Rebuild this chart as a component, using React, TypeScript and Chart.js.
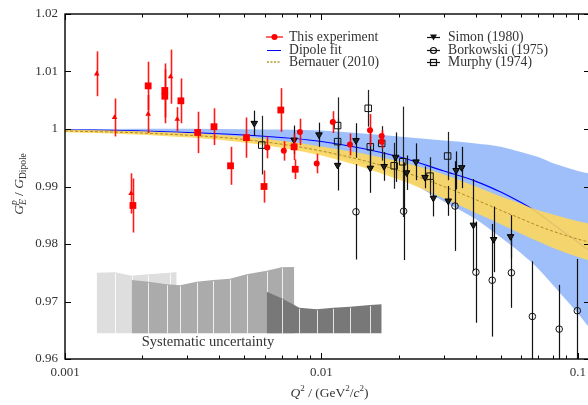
import React, { useEffect, useRef } from 'react';
import { Chart, registerables } from 'chart.js';
Chart.register(...registerables);

// ---------- axis ranges & tick labels ----------
const Q2_MIN = 0.001;
const Q2_MAX = 0.1114;
const G_MIN = 0.96;
const G_MAX = 1.02;
const yTickValues = [0.96, 0.97, 0.98, 0.99, 1.0, 1.01, 1.02];
const yTickLabels = ['0.96', '0.97', '0.98', '0.99', '1', '1.01', '1.02'];
const xTickValues = [0.001, 0.01, 0.1];
const xTickLabels = ['0.001', '0.01', '0.1'];

// ---------- This experiment ----------
const expQ2 = [0.00133, 0.00156, 0.00181, 0.00184, 0.00211, 0.00211, 0.00245, 0.00245, 0.00258, 0.00274, 0.00283, 0.00329, 0.00381, 0.00442, 0.0051, 0.00597, 0.00615, 0.00694, 0.00713, 0.00782, 0.0079, 0.00824, 0.00958, 0.01107, 0.01291, 0.01546, 0.01717, 0.01717];
const expG = [1.0096, 1.002, 0.9888, 0.9867, 1.0075, 1.0026, 1.0067, 1.0057, 1.0091, 1.0017, 1.0049, 0.9994, 1.0004, 0.9936, 0.9985, 0.99, 0.9968, 1.0033, 0.9962, 0.9969, 0.993, 0.9995, 0.994, 1.0012, 0.9973, 0.9998, 0.9988, 0.9978];
const expErr = [0.0039, 0.0033, 0.0035, 0.0047, 0.0042, 0.0033, 0.0047, 0.0047, 0.0047, 0.0021, 0.0039, 0.0036, 0.0032, 0.0033, 0.0035, 0.0028, 0.0019, 0.0038, 0.0017, 0.0023, 0.0017, 0.0023, 0.0017, 0.0019, 0.0019, 0.0028, 0.001, 0.0012];
const expMarker = ['tri', 'tri', 'tri', 'sq', 'sq', 'tri', 'sq', 'sq', 'tri', 'tri', 'sq', 'sq', 'sq', 'sq', 'sq', 'sq', 'ci', 'sq', 'ci', 'sq', 'sq', 'ci', 'ci', 'ci', 'ci', 'ci', 'ci', 'ci'];

// ---------- Simon (1980) ----------
const simonQ2 = [0.00547, 0.00782, 0.00978, 0.01156, 0.01363, 0.0155, 0.01754, 0.01945, 0.02147, 0.02335, 0.02532, 0.0273, 0.0312, 0.0335, 0.0352, 0.0391, 0.0469, 0.0546];
const simonG = [1.001, 0.9981, 0.999, 0.9937, 0.998, 0.9932, 0.9935, 0.9951, 0.9924, 0.9943, 0.9916, 0.988, 0.9875, 0.9928, 0.9933, 0.9833, 0.9808, 0.9813];
const simonErr = [0.0022, 0.0025, 0.0021, 0.0044, 0.003, 0.0043, 0.0025, 0.0043, 0.003, 0.0032, 0.0019, 0.0032, 0.0026, 0.0033, 0.0036, 0.008, 0.0057, 0.0037];

// ---------- Borkowski (1975) ----------
const borkQ2 = [0.01363, 0.0209, 0.03315, 0.04, 0.0463, 0.055, 0.0664, 0.0845, 0.0994];
const borkG = [0.9856, 0.9857, 0.9866, 0.9751, 0.9737, 0.975, 0.9674, 0.9652, 0.9684];
const borkErr = [0.0083, 0.0085, 0.0078, 0.0088, 0.0098, 0.0061, 0.0096, 0.0077, 0.009];

// ---------- Murphy (1974) ----------
const murphyQ2 = [0.00585, 0.01156, 0.01156, 0.01521, 0.0155, 0.01717, 0.0192, 0.02073, 0.02649, 0.03103];
const murphyG = [0.9972, 1.0006, 0.9978, 1.0036, 0.9969, 0.9975, 0.9936, 0.9943, 0.9918, 0.9953];
const murphyErr = [0.0051, 0.0049, 0.004, 0.0032, 0.0035, 0.003, 0.004, 0.0096, 0.0033, 0.0042];

// ---------- Dipole fit with band ----------
const dipoleQ2 = [0.001, 0.002, 0.005, 0.01, 0.02, 0.03, 0.04, 0.05, 0.06, 0.07, 0.08, 0.1, 0.1114];
const dipoleG = [0.99985, 0.99965, 0.99896, 0.99783, 0.99518, 0.9927, 0.9909, 0.98903, 0.9872, 0.98541, 0.98344, 0.98031, 0.97875];
const dipoleUpper = [0.99995, 1.00005, 0.99996, 0.99973, 0.99868, 0.998, 0.9975, 0.99693, 0.996, 0.99511, 0.99404, 0.99271, 0.99225];
const dipoleLower = [0.99975, 0.99925, 0.99796, 0.99593, 0.99168, 0.9874, 0.9843, 0.98113, 0.9784, 0.97571, 0.97284, 0.96791, 0.96525];

// ---------- Bernauer (2010) with band ----------
const bernQ2 = [0.001, 0.002, 0.005, 0.01, 0.02, 0.03, 0.04, 0.05, 0.06, 0.07, 0.08, 0.1, 0.1114];
const bernG = [0.99965, 0.9993, 0.99817, 0.99617, 0.9928, 0.99, 0.9877, 0.98585, 0.9844, 0.98315, 0.98221, 0.98084, 0.9803];
const bernUpper = [0.99985, 0.9996, 0.99867, 0.99697, 0.9944, 0.9921, 0.99, 0.98825, 0.987, 0.98585, 0.98511, 0.98394, 0.9835];
const bernLower = [0.99945, 0.999, 0.99767, 0.99537, 0.9912, 0.9879, 0.9854, 0.98345, 0.9818, 0.98045, 0.97931, 0.97774, 0.9771];

// ---------- Systematic uncertainty blocks ----------
const sysBase = 0.96447;
const sysLightQ2 = [0.001329, 0.001566, 0.00182, 0.002113, 0.002567, 0.002725];
const sysLightG = [0.97501, 0.97508, 0.97449, 0.97473, 0.97501, 0.97513];
const sysMedQ2 = [0.00182, 0.002113, 0.002491, 0.002807, 0.003262, 0.003786, 0.004397, 0.005109, 0.006115, 0.006996, 0.007834];
const sysMedG = [0.97374, 0.97344, 0.97299, 0.97282, 0.97344, 0.97374, 0.97397, 0.97473, 0.97536, 0.97595, 0.976];
const sysDarkQ2 = [0.006115, 0.006996, 0.008192, 0.009579, 0.01112, 0.01291, 0.01546, 0.01717];
const sysDarkG = [0.9717, 0.97056, 0.96892, 0.96864, 0.96892, 0.9691, 0.96939, 0.96951];

const SERIF = '"Liberation Serif", "DejaVu Serif", serif';

const pts = (xs: number[], ys: number[]) => xs.map((x, i) => ({ x, y: ys[i] }));

const errorBarPlugin = {
  id: 'errorBars',
  beforeDatasetDraw(chart: any, args: any) {
    const ds = chart.data.datasets[args.index];
    if (!ds.errors) return;
    const { ctx, chartArea } = chart;
    const ys = chart.scales.y;
    ctx.save();
    ctx.beginPath();
    ctx.rect(chartArea.left, chartArea.top, chartArea.right - chartArea.left, chartArea.bottom - chartArea.top);
    ctx.clip();
    ctx.strokeStyle = ds.errColor;
    ctx.lineWidth = ds.errWidth;
    args.meta.data.forEach((el: any, i: number) => {
      const v = ds.data[i].y;
      const e = ds.errors[i];
      ctx.beginPath();
      ctx.moveTo(Math.round(el.x) + 0.5, ys.getPixelForValue(v + e));
      ctx.lineTo(Math.round(el.x) + 0.5, ys.getPixelForValue(v - e));
      ctx.stroke();
    });
    ctx.restore();
  },
  afterDatasetDraw(chart: any, args: any) {
    const ds = chart.data.datasets[args.index];
    if (!ds.separators) return;
    const { ctx } = chart;
    const ys = chart.scales.y;
    const base = ys.getPixelForValue(sysBase);
    ctx.save();
    ctx.strokeStyle = 'rgba(255,255,255,0.8)';
    ctx.lineWidth = 1;
    const n = args.meta.data.length;
    args.meta.data.forEach((el: any, i: number) => {
      if (i === 0 || i === n - 1) return;
      const x = Math.round(el.x) + 0.5;
      ctx.beginPath();
      ctx.moveTo(x, el.y + 1);
      ctx.lineTo(x, base);
      ctx.stroke();
    });
    ctx.restore();
  },
};

type Seg = { t: string; size: number; italic?: boolean; dy?: number; stackWith?: Seg };

function segWidth(ctx: CanvasRenderingContext2D, s: Seg) {
  ctx.font = `${s.italic ? 'italic ' : ''}${s.size}px ${SERIF}`;
  return ctx.measureText(s.t).width;
}

function drawRich(ctx: CanvasRenderingContext2D, segs: Seg[], cx: number, cy: number) {
  let total = 0;
  const widths = segs.map((s) => {
    let w = segWidth(ctx, s);
    if (s.stackWith) w = Math.max(w, segWidth(ctx, s.stackWith));
    total += w;
    return w;
  });
  let x = cx - total / 2;
  ctx.textBaseline = 'alphabetic';
  ctx.textAlign = 'left';
  segs.forEach((s, i) => {
    ctx.font = `${s.italic ? 'italic ' : ''}${s.size}px ${SERIF}`;
    ctx.fillText(s.t, x, cy + (s.dy || 0));
    if (s.stackWith) {
      const t = s.stackWith;
      ctx.font = `${t.italic ? 'italic ' : ''}${t.size}px ${SERIF}`;
      ctx.fillText(t.t, x, cy + (t.dy || 0));
    }
    x += widths[i];
  });
}

const decorPlugin = {
  id: 'decor',
  afterDraw(chart: any) {
    const { ctx, chartArea } = chart;
    const { left, right, top, bottom } = chartArea;
    const xs = chart.scales.x;
    const ys = chart.scales.y;
    ctx.save();
    // frame
    ctx.strokeStyle = '#000';
    ctx.lineWidth = 1.4;
    ctx.strokeRect(left, top, right - left, bottom - top);
    // x ticks (major + minor)
    ctx.lineWidth = 1;
    for (let d = -3; d <= -1; d++) {
      for (let m = 1; m <= 9; m++) {
        const v = m * Math.pow(10, d);
        if (v > Q2_MAX) break;
        const px = Math.round(xs.getPixelForValue(v)) + 0.5;
        const len = m === 1 ? 6 : 3.5;
        ctx.beginPath();
        ctx.moveTo(px, bottom);
        ctx.lineTo(px, bottom - len);
        ctx.moveTo(px, top);
        ctx.lineTo(px, top + len);
        ctx.stroke();
      }
    }
    // y ticks
    yTickValues.forEach((v) => {
      const py = Math.round(ys.getPixelForValue(v)) + 0.5;
      ctx.beginPath();
      ctx.moveTo(left, py);
      ctx.lineTo(left + 6, py);
      ctx.moveTo(right, py);
      ctx.lineTo(right - 6, py);
      ctx.stroke();
    });
    // tick labels
    ctx.fillStyle = '#333';
    ctx.font = `13px ${SERIF}`;
    ctx.textAlign = 'right';
    ctx.textBaseline = 'middle';
    yTickValues.forEach((v, i) => {
      ctx.fillText(yTickLabels[i], left - 7, ys.getPixelForValue(v));
    });
    ctx.textAlign = 'center';
    ctx.textBaseline = 'middle';
    xTickValues.forEach((v, i) => {
      ctx.fillText(xTickLabels[i], xs.getPixelForValue(v), bottom + 14);
    });
    // x title
    drawRich(ctx, [
      { t: 'Q', size: 13.5, italic: true },
      { t: '2', size: 9, dy: -6 },
      { t: ' / (GeV', size: 13.5 },
      { t: '2', size: 9, dy: -6 },
      { t: '/', size: 13.5 },
      { t: 'c', size: 13.5, italic: true },
      { t: '2', size: 9, dy: -6 },
      { t: ')', size: 13.5 },
    ], (left + 590) / 2 + 2, 397);
    // y title
    ctx.save();
    ctx.translate(23, 184);
    ctx.rotate(-Math.PI / 2);
    drawRich(ctx, [
      { t: 'G', size: 13.5, italic: true },
      { t: 'p', size: 9.5, italic: true, dy: -6, stackWith: { t: 'E', size: 9.5, italic: true, dy: 3 } },
      { t: ' / ', size: 13.5 },
      { t: 'G', size: 13.5, italic: true },
      { t: 'Dipole', size: 9.5, dy: 3 },
    ], 0, 0);
    ctx.restore();
    // systematic label
    ctx.fillStyle = '#333';
    ctx.font = `14.5px ${SERIF}`;
    ctx.textAlign = 'center';
    ctx.textBaseline = 'middle';
    ctx.fillText('Systematic uncertainty', 208, 342);

    // legend
    const rows = [37, 50, 62];
    ctx.textAlign = 'left';
    ctx.textBaseline = 'middle';
    ctx.font = `13.7px ${SERIF}`;
    // This experiment
    ctx.strokeStyle = 'rgba(255,0,0,0.6)';
    ctx.lineWidth = 2;
    ctx.beginPath();
    ctx.moveTo(266, rows[0]);
    ctx.lineTo(283, rows[0]);
    ctx.stroke();
    ctx.fillStyle = '#ff0000';
    ctx.beginPath();
    ctx.arc(274.5, rows[0], 3, 0, Math.PI * 2);
    ctx.fill();
    // Dipole fit
    ctx.strokeStyle = '#0000ff';
    ctx.lineWidth = 1;
    ctx.beginPath();
    ctx.moveTo(267, rows[1] + 0.5);
    ctx.lineTo(281, rows[1] + 0.5);
    ctx.stroke();
    // Bernauer
    ctx.strokeStyle = '#b8962e';
    ctx.setLineDash([2, 1.5]);
    ctx.lineWidth = 1.5;
    ctx.beginPath();
    ctx.moveTo(267, rows[2]);
    ctx.lineTo(281, rows[2]);
    ctx.stroke();
    ctx.setLineDash([]);
    ctx.fillStyle = '#333';
    ctx.fillText('This experiment', 289, rows[0]);
    ctx.fillText('Dipole fit', 289, rows[1]);
    ctx.fillText('Bernauer (2010)', 289, rows[2]);
    // right column
    ctx.strokeStyle = '#111';
    ctx.lineWidth = 1.2;
    rows.forEach((ry) => {
      ctx.beginPath();
      ctx.moveTo(427, ry + 0.5);
      ctx.lineTo(440, ry + 0.5);
      ctx.stroke();
    });
    // Simon marker (down triangle)
    ctx.fillStyle = '#111';
    ctx.beginPath();
    ctx.moveTo(433.5 - 3.5, rows[0] - 2.5);
    ctx.lineTo(433.5 + 3.5, rows[0] - 2.5);
    ctx.lineTo(433.5, rows[0] + 3.5);
    ctx.closePath();
    ctx.fill();
    // Borkowski marker
    ctx.beginPath();
    ctx.arc(433.5, rows[1] + 0.5, 3, 0, Math.PI * 2);
    ctx.stroke();
    // Murphy marker
    ctx.strokeRect(430.5, rows[2] - 2.5, 6, 6);
    ctx.fillStyle = '#333';
    ctx.fillText('Simon (1980)', 448, rows[0]);
    ctx.fillText('Borkowski (1975)', 448, rows[1]);
    ctx.fillText('Murphy (1974)', 448, rows[2]);
    ctx.restore();
  },
};

export default function App() {
  const ref = useRef<HTMLCanvasElement>(null);
  useEffect(() => {
    if (!ref.current) return;
    const expStyles = expMarker.map((m) => (m === 'tri' ? 'triangle' : m === 'sq' ? 'rect' : 'circle'));
    const expRadii = expMarker.map((m) => (m === 'tri' ? 3.2 : m === 'sq' ? 4.8 : 3));
    const lineBase = { pointRadius: 0, borderWidth: 0, cubicInterpolationMode: 'monotone' as const, showLine: true };
    const chart = new Chart(ref.current, {
      type: 'line',
      data: {
        datasets: [
          {
            label: 'This experiment', data: pts(expQ2, expG), showLine: false, order: 0,
            pointStyle: expStyles as any, pointRadius: expRadii, backgroundColor: '#ff0000', borderColor: '#ff0000', borderWidth: 0,
            errors: expErr, errColor: 'rgba(255,0,0,0.9)', errWidth: 1.6,
          } as any,
          {
            label: 'Simon (1980)', data: pts(simonQ2, simonG), showLine: false, order: 1,
            pointStyle: 'triangle', rotation: 180, pointRadius: 3.8, backgroundColor: '#222', borderColor: '#000', borderWidth: 1,
            errors: simonErr, errColor: '#111', errWidth: 1.2,
          } as any,
          {
            label: 'Murphy (1974)', data: pts(murphyQ2, murphyG), showLine: false, order: 2,
            pointStyle: 'rect', pointRadius: 4.6, backgroundColor: 'rgba(0,0,0,0)', borderColor: '#111', borderWidth: 1,
            errors: murphyErr, errColor: '#222', errWidth: 1.2,
          } as any,
          {
            label: 'Borkowski (1975)', data: pts(borkQ2, borkG), showLine: false, order: 3,
            pointStyle: 'circle', pointRadius: 3.3, backgroundColor: 'rgba(0,0,0,0)', borderColor: '#111', borderWidth: 1,
            errors: borkErr, errColor: '#111', errWidth: 1.2,
          } as any,
          {
            label: 'Bernauer (2010)', data: pts(bernQ2, bernG), ...lineBase, borderWidth: 1, borderColor: '#b08a22', borderDash: [3, 2], fill: false, order: 4,
          },
          {
            label: 'bernUpper', data: pts(bernQ2, bernUpper), ...lineBase, fill: '+1', backgroundColor: 'rgba(253,214,92,0.9)', order: 5,
          },
          { label: 'bernLower', data: pts(bernQ2, bernLower), ...lineBase, fill: false, order: 6 },
          {
            label: 'Dipole fit', data: pts(dipoleQ2, dipoleG), ...lineBase, borderWidth: 1.2, borderColor: '#0000ff', fill: false, order: 7,
          },
          {
            label: 'dipUpper', data: pts(dipoleQ2, dipoleUpper), ...lineBase, fill: '+1', backgroundColor: 'rgba(150,186,250,0.92)', order: 8,
          },
          { label: 'dipLower', data: pts(dipoleQ2, dipoleLower), ...lineBase, fill: false, order: 9 },
          {
            label: 'sysDark', data: pts(sysDarkQ2, sysDarkG), pointRadius: 0, borderWidth: 0, tension: 0, fill: { value: sysBase }, backgroundColor: '#787878', order: 10, separators: true,
          } as any,
          {
            label: 'sysMed', data: pts(sysMedQ2, sysMedG), pointRadius: 0, borderWidth: 0, tension: 0, fill: { value: sysBase }, backgroundColor: '#ababab', order: 11, separators: true,
          } as any,
          {
            label: 'sysLight', data: pts(sysLightQ2, sysLightG), pointRadius: 0, borderWidth: 0, tension: 0, fill: { value: sysBase }, backgroundColor: '#dedede', order: 12, separators: true,
          } as any,
        ],
      },
      options: {
        animation: false,
        responsive: false,
        events: [],
        layout: { padding: { left: 65, right: 10, top: 14, bottom: 46 } },
        plugins: { legend: { display: false }, tooltip: { enabled: false } },
        scales: {
          x: { type: 'logarithmic', min: Q2_MIN, max: Q2_MAX, display: false },
          y: { type: 'linear', min: G_MIN, max: G_MAX, display: false },
        },
      },
      plugins: [errorBarPlugin, decorPlugin],
    });
    return () => chart.destroy();
  }, []);
  return (
    <div style={{ position: 'absolute', left: 0, top: 0, width: 588, height: 405, overflow: 'hidden', background: '#fff' }}>
      <canvas ref={ref} width={600} height={405} style={{ display: 'block' }} />
    </div>
  );
}
